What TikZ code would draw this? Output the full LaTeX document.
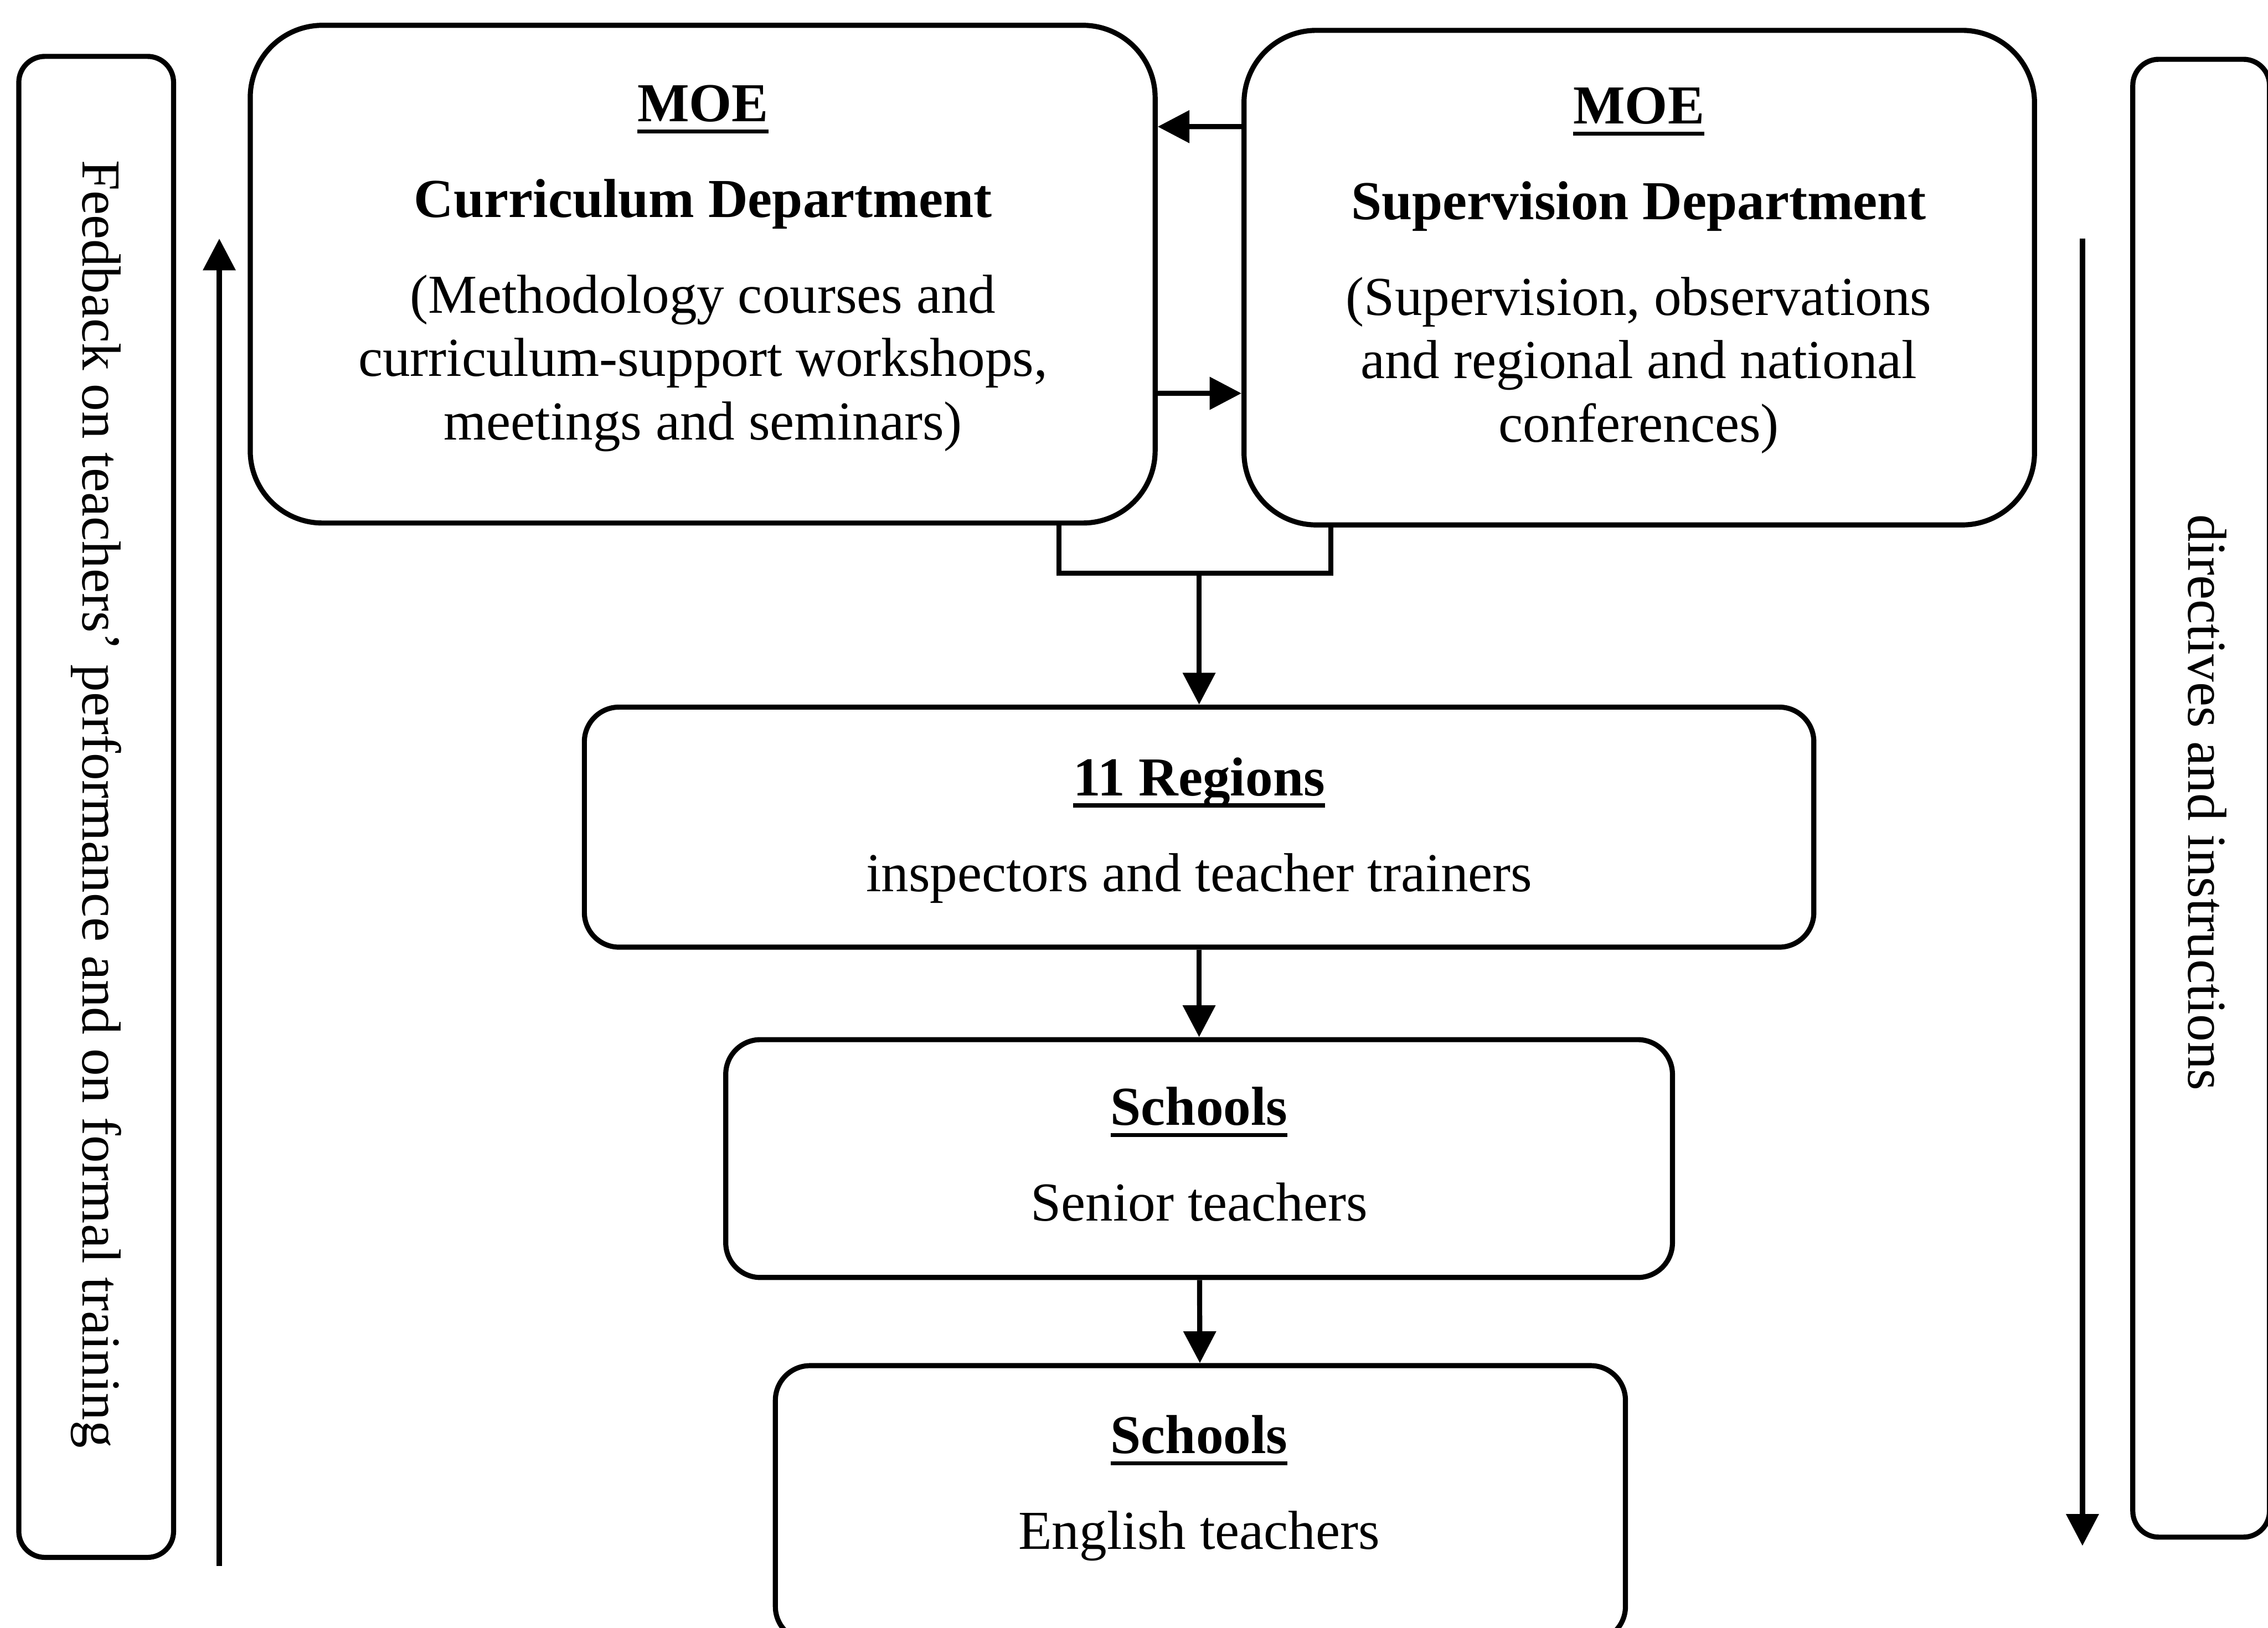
\documentclass[tikz,border=0pt]{standalone}
\usepackage{fontspec}
\setmainfont{Liberation Serif}
\usepackage{tikz}
\usetikzlibrary{arrows.meta, positioning, calc}
\tikzset{
  deptbox/.style={draw, line width=1pt, rounded corners=5mm, inner sep=0pt},
  unitbox/.style={draw, line width=1pt, rounded corners=2.4mm, inner sep=0pt},
  sidebox/.style={draw, line width=1pt, rounded corners=1.8mm, inner sep=0pt},
  lbl/.style={align=center, inner sep=0pt, font=\fontsize{10.8}{12.5}\selectfont},
  arrow/.style={-{Triangle[length=2.2mm,width=2.2mm]}, line width=1pt},
  link/.style={line width=1pt}
}
\newcommand{\boxhead}[1]{\setbox0\hbox{\textbf{#1}}\rlap{\rule[-2.3pt]{\wd0}{0.8pt}}\box0}

\begin{document}
\begin{tikzpicture}
  \useasboundingbox (0,0) rectangle (15.68,11.257);
  \clip (0,0) rectangle (15.68,11.257);
  % side panels
  \node[sidebox, minimum width=1.07cm, minimum height=10.38cm] (fb) at (0.665,5.677) {};
  \node[lbl, rotate=-90] (fbtxt) at (0.665,5.697) {Feedback on teachers' performance and on formal training};
  \node[sidebox, minimum width=0.945cm, minimum height=10.22cm] (dir) at (15.2175,5.737) {};
  \node[lbl, rotate=-90] (dirtxt) at (15.26,5.707) {directives and instructions};
  % MOE departments
  \node[deptbox, minimum width=6.256cm, minimum height=3.442cm] (cur) at (4.858,9.361) {};
  \node[lbl] (curtxt) at (4.86,9.40) {\boxhead{MOE}\\[6.3pt]\textbf{Curriculum Department}\\[6.3pt](Methodology courses and\\curriculum-support workshops,\\meetings and seminars)};
  \node[deptbox, minimum width=5.465cm, minimum height=3.42cm] (sup) at (11.333,9.337) {};
  \node[lbl] (suptxt) at (11.33,9.385) {\boxhead{MOE}\\[6.3pt]\textbf{Supervision Department}\\[6.3pt](Supervision, observations\\and regional and national\\conferences)};
  % regions and schools
  \node[unitbox, minimum width=8.5cm, minimum height=1.66cm] (reg) at (8.29,5.537) {};
  \node[lbl] (regtxt) at (8.29,5.515) {\boxhead{11 Regions}\\[6.3pt]inspectors and teacher trainers};
  \node[unitbox, minimum width=6.545cm, minimum height=1.645cm] (sch1) at (8.29,3.245) {};
  \node[lbl] (sch1txt) at (8.29,3.275) {\boxhead{Schools}\\[6.3pt]Senior teachers};
  \node[unitbox, minimum width=5.877cm, minimum height=1.906cm] (sch2) at (8.299,0.86) {};
  \node[lbl] (sch2txt) at (8.29,0.965) {\boxhead{Schools}\\[6.3pt]English teachers};
  % long arrows
  \coordinate (fbtail) at (1.516,0.427);
  \coordinate (fbhead) at (1.516,9.607);
  \draw[arrow] (fbtail) -- (fbhead);
  \coordinate (dirtail) at (14.397,9.607);
  \coordinate (dirhead) at (14.397,0.567);
  \draw[arrow] (dirtail) -- (dirhead);
  % links
  \draw[arrow] ([yshift=1.044cm]sup.west) -- ([yshift=1.02cm]cur.east);
  \draw[arrow] ([yshift=-0.824cm]cur.east) -- ([yshift=-0.8cm]sup.west);
  \coordinate (join) at (8.29,7.292);
  \draw[link] ([xshift=2.462cm]cur.south) |- (join) -| ([xshift=-2.133cm]sup.south);
  \draw[arrow] (join) -- (reg);
  \draw[arrow] (reg) -- (sch1);
  \draw[arrow] (sch1) -- (sch2);
\end{tikzpicture}
\end{document}
